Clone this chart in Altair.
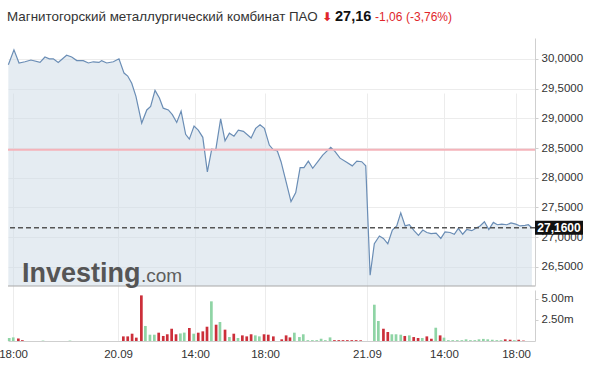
import altair as alt
import pandas as pd

# ---------------- data ----------------
TITLE = "Магнитогорский металлургический комбинат ПАО"
ARROW = "⬇"
LAST = "27,16"
CHANGE = "-1,06"
CHANGE_PCT = "(-3,76%)"
LAST_LABEL = "27,1600"

# time axis in trading hours from the left edge
x_tick_pos = [0.29, 6.29, 10.69, 14.69, 20.51, 24.91, 29.03]
x_tick_labels = ["18:00", "20.09", "14:00", "18:00", "21.09", "14:00", "18:00"]
X_DOMAIN = [0, 30.11]

price_ticks = [26.5, 27.0, 27.5, 28.0, 28.5, 29.0, 29.5, 30.0]
PRICE_DOMAIN = [26.18, 30.35]
REF_LEVEL = 28.47
LAST_PRICE = 27.16

vol_ticks = [2.5, 5.0]
VOL_DOMAIN = [0, 6.07]

price_t = [0.02, 0.34, 0.63, 0.97, 1.31, 1.83, 2.11, 2.36, 2.59, 2.87,
           3.35, 3.64, 3.93, 4.30, 4.59, 4.87, 5.20, 5.35, 5.64, 6.02,
           6.34, 6.63, 6.84, 7.07, 7.31, 7.64, 7.93, 8.15, 8.40, 8.65,
           8.87, 9.16, 9.39, 9.64, 9.89, 10.15, 10.36, 10.63, 10.87, 11.13,
           11.39, 11.64, 11.87, 12.15, 12.40, 12.65, 12.91, 13.16, 13.45, 13.89,
           14.15, 14.40, 14.65, 14.93, 15.16, 15.39, 15.60, 15.89, 16.17, 16.44,
           16.69, 16.91, 17.16, 17.41, 17.70, 17.98, 18.44, 18.69, 18.97, 19.35,
           19.67, 19.93, 20.21, 20.44, 20.69, 20.93, 21.22, 21.45, 21.70, 21.96,
           22.21, 22.44, 22.69, 22.93, 23.20, 23.45, 23.70, 23.93, 24.17, 24.46,
           24.73, 24.97, 25.26, 25.50, 25.73, 25.98, 26.21, 26.50, 26.73, 26.97,
           27.22, 27.47, 27.73, 27.96, 28.21, 28.50, 28.74, 29.01, 29.26, 29.54,
           29.73, 29.93]
price_v = [29.90, 30.15, 29.93, 29.95, 29.98, 29.94, 30.03, 30.00, 30.00, 29.94,
           30.06, 30.03, 29.97, 29.97, 29.93, 29.95, 29.94, 29.97, 29.93, 29.95,
           30.00, 29.76, 29.71, 29.59, 29.37, 28.92, 29.14, 29.20, 29.47, 29.34,
           29.17, 29.14, 29.06, 28.93, 29.12, 28.73, 28.65, 28.87, 28.80, 28.68,
           28.10, 28.48, 28.47, 28.99, 28.62, 28.75, 28.70, 28.80, 28.78, 28.67,
           28.83, 28.89, 28.83, 28.55, 28.47, 28.45, 28.27, 27.93, 27.60, 27.75,
           28.17, 28.17, 28.28, 28.16, 28.27, 28.38, 28.51, 28.44, 28.33, 28.26,
           28.20, 28.28, 28.27, 28.20, 26.36, 26.89, 27.02, 26.98, 26.89, 27.12,
           27.19, 27.41, 27.19, 27.21, 27.11, 27.03, 27.12, 27.08, 27.06, 27.07,
           26.98, 27.09, 27.08, 27.05, 27.15, 27.05, 27.13, 27.11, 27.15, 27.19,
           27.26, 27.13, 27.25, 27.21, 27.22, 27.21, 27.24, 27.22, 27.19, 27.20,
           27.21, 27.16]

vol_t = [0.07, 0.30, 0.59, 0.82, 2.00, 3.54,
         6.59, 6.84, 7.09, 7.33, 7.62, 7.85, 8.11, 8.36, 8.61, 8.87,
         9.10, 9.35, 9.60, 9.85, 10.07, 10.36, 10.61, 10.87, 11.13, 11.37,
         11.62, 11.89, 12.11, 12.40, 12.65, 12.90, 13.14, 13.39, 13.64, 13.89,
         14.13, 14.36, 14.63, 14.87, 15.16, 15.64, 15.89, 16.11, 16.36, 16.65,
         16.87, 17.13, 17.39, 17.64, 17.89, 18.13, 18.40, 18.65, 18.90, 19.14,
         19.39, 19.64, 19.89, 20.15,
         20.93, 21.16, 21.45, 21.70, 21.93, 22.17, 22.44, 22.67, 22.93, 23.18,
         23.43, 23.67, 23.93, 24.19, 24.44, 24.69, 24.91, 25.16, 25.41, 25.67,
         25.93, 26.17, 26.42, 26.67, 26.91, 27.16, 27.41, 27.67, 27.93, 28.17,
         28.41, 28.69, 28.93, 29.18, 29.45]
vol_v = [0.36, 0.43, 0.30, 0.10, 0.05, 0.05,
         0.55, 0.55, 0.87, 0.40, 5.43, 1.79, 0.75, 0.75, 0.99, 0.60,
         0.80, 1.46, 0.80, 0.90, 1.00, 1.55, 0.87, 0.99, 1.15, 1.70,
         4.72, 1.94, 2.26, 1.35, 0.47, 0.87, 0.36, 0.67, 0.55, 0.80,
         0.67, 0.55, 0.80, 0.75, 0.55, 0.20, 0.67, 0.43, 0.99, 0.47,
         0.80, 0.10, 0.10, 0.10, 0.27, 0.10, 0.43, 0.10, 0.10, 0.10,
         0.10, 0.10, 0.10, 0.08,
         4.32, 2.38, 1.46, 1.07, 0.80, 0.80, 0.75, 0.60, 0.67, 0.47,
         0.36, 0.36, 0.55, 0.27, 1.58, 0.67, 0.40, 0.10, 0.10, 0.10,
         0.10, 0.20, 0.10, 0.10, 0.20, 0.25, 0.20, 0.15, 0.10, 0.10,
         0.20, 0.15, 0.10, 0.15, 0.05]
# u = up (green), d = down (red), one letter per volume bar
vol_dir = ("uudduu"
           + "ddddduuuddddduudud" + "ddudud" + "ududdd" + "uudddddd"
           + "uuuuuuuuu" + "ddddddd"
           + "uudduuudud" + "dudduduuuu" + "uuuuuuuuuu" + "ddudd")

assert len(price_t) == len(price_v)
assert len(vol_t) == len(vol_v) == len(vol_dir), (len(vol_t), len(vol_v), len(vol_dir))

price_df = pd.DataFrame({"t": price_t, "price": price_v})
vol_df = pd.DataFrame({"t": vol_t, "vol": vol_v,
                       "dir": ["up" if d == "u" else "down" for d in vol_dir]})
one = pd.DataFrame({"k": [0]})

# ---------------- styling ----------------
W, H = 527, 303
PRICE_RANGE = [248, 0]
VOL_RANGE = [303, 252]
FONT = "Liberation Sans"

xlabel_expr = f"{x_tick_labels}[indexof({x_tick_pos}, datum.value)]"
xscale = alt.Scale(domain=X_DOMAIN, nice=False, zero=False, padding=0)
xaxis = alt.Axis(values=x_tick_pos, labelExpr=xlabel_expr, title=None,
                 grid=True, gridColor="#ececec", ticks=False, labelPadding=7,
                 labelFlush=False, labelOverlap=False, domainColor="#cfcfcf",
                 labelColor="#333", labelFontSize=11.5, labelFont=FONT)
xenc = alt.X("t:Q", scale=xscale, axis=xaxis)

pscale = alt.Scale(domain=PRICE_DOMAIN, range=PRICE_RANGE, nice=False, zero=False)
paxis = alt.Axis(orient="right", values=price_ticks, title=None,
                 labelExpr="replace(format(datum.value, '.4f'), '.', ',')",
                 grid=True, gridColor="#ececec", domainColor="#cfcfcf",
                 tickColor="#cfcfcf", tickSize=3, labelPadding=3,
                 labelColor="#333", labelFontSize=11.5, labelFont=FONT)

area = alt.Chart(price_df).mark_area(color="#ccd9e6", opacity=0.5).encode(
    x=xenc, y=alt.Y("price:Q", scale=pscale, axis=paxis),
    y2=alt.Y2Datum(PRICE_DOMAIN[0]))
line = alt.Chart(price_df).mark_line(color="#6a8db5", strokeWidth=1.2).encode(
    x=xenc, y=alt.Y("price:Q", scale=pscale))
ref_rule = alt.Chart(one).mark_rule(color="#f5b3ba", strokeWidth=2).encode(
    y=alt.YDatum(REF_LEVEL, scale=pscale))
last_rule = alt.Chart(one).mark_rule(color="#555", strokeWidth=1.6,
                                     strokeDash=[5, 3]).encode(
    y=alt.YDatum(LAST_PRICE, scale=pscale))
base_rule = alt.Chart(one).mark_rule(color="#a8a8a8", strokeWidth=1).encode(
    y=alt.YDatum(PRICE_DOMAIN[0], scale=pscale))
last_box = alt.Chart(one).mark_point(
    shape="M-1,-0.29H1V0.29H-1Z", size=2304, filled=True, color="#111",
    opacity=1).encode(x=alt.value(551), y=alt.YDatum(LAST_PRICE, scale=pscale))
last_txt = alt.Chart(one).mark_text(
    text=LAST_LABEL, color="white", fontWeight="bold", fontSize=12,
    font=FONT, align="center", baseline="middle").encode(
    x=alt.value(551), y=alt.YDatum(LAST_PRICE, scale=pscale))


def txt(s, x, y, size, color, weight="normal", font=FONT):
    return alt.Chart(one).mark_text(
        text=s, fontSize=size, color=color, fontWeight=weight, font=font,
        align="left", baseline="alphabetic").encode(x=alt.value(x), y=alt.value(y))


logo1 = txt("Investing", 14, 244, 27, "#555555", "bold")
logo2 = txt(".com", 133, 244, 19, "#5e5e5e")
title = txt(TITLE, -1, -17, 13.4, "#333")
arrow = txt(ARROW, 314, -17.5, 12, "#e0262b", "bold", "DejaVu Sans")
last = txt(LAST, 327, -17, 14.5, "#111", "bold")
chg = txt(CHANGE, 367, -17, 12, "#e0262b")
chg_pct = txt(CHANGE_PCT, 398, -17, 12, "#e0262b")

price_layer = alt.layer(area, line, ref_rule, last_rule, base_rule,
                        logo1, logo2, last_box, last_txt,
                        title, arrow, last, chg, chg_pct)

vscale = alt.Scale(domain=VOL_DOMAIN, range=VOL_RANGE, nice=False, zero=True)
vaxis = alt.Axis(orient="right", values=vol_ticks, title=None, grid=False,
                 labelExpr="format(datum.value, '.2f') + 'm'",
                 domainColor="#cfcfcf", tickColor="#cfcfcf", tickSize=3,
                 labelPadding=3, labelColor="#333", labelFontSize=11.5,
                 labelFont=FONT)
bars = alt.Chart(vol_df).mark_bar(size=2.7).encode(
    x=xenc, y=alt.Y("vol:Q", scale=vscale, axis=vaxis),
    color=alt.Color("dir:N", scale=alt.Scale(domain=["up", "down"],
                                             range=["#8fd4a5", "#cc2f3a"]),
                    legend=None))
vol_layer = alt.layer(bars)

chart = alt.layer(price_layer, vol_layer).resolve_scale(
    y="independent").properties(
    width=W, height=H,
    autosize=alt.AutoSizeParams(type="none"),
    padding={"left": 8, "top": 38, "right": 55, "bottom": 33},
    background="white",
).configure_view(stroke=None)

chart.save("out.html", embed_options={"renderer": "svg", "actions": False})
